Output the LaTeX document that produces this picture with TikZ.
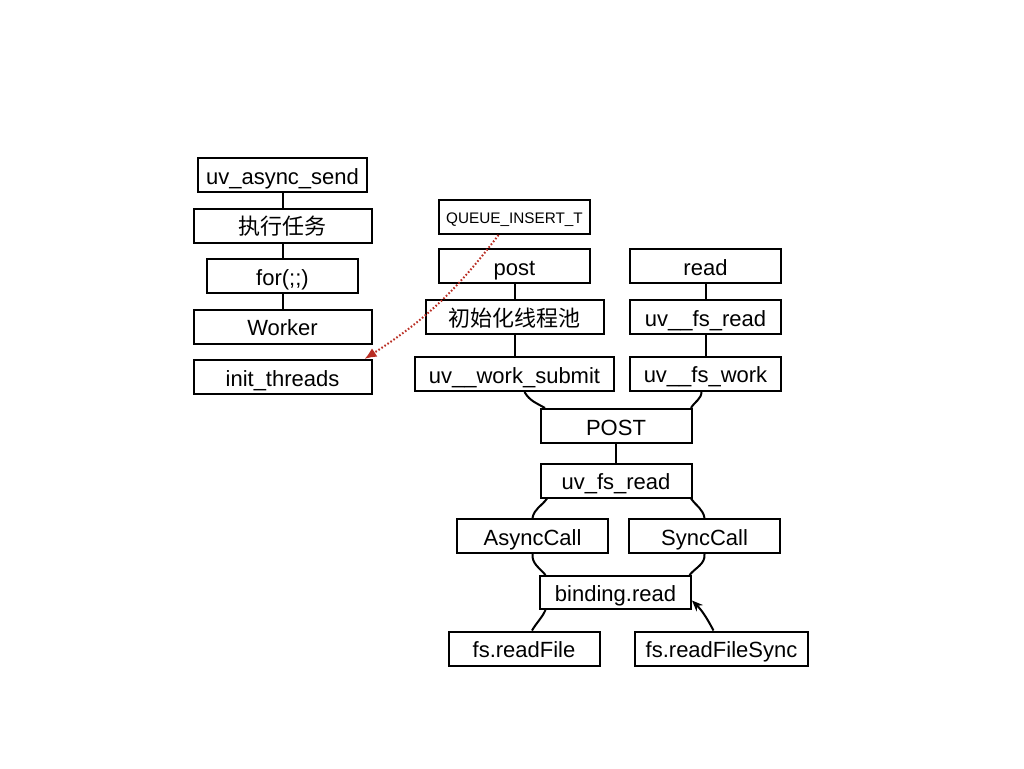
\documentclass[tikz,border=0pt]{standalone}
\usepackage{fontspec}
\setmainfont{Liberation Sans}
\newfontfamily\cjk{Noto Sans CJK SC}
\usetikzlibrary{arrows.meta,positioning}
\definecolor{dotred}{RGB}{185,45,35}

\begin{document}
\begin{tikzpicture}[x=1pt, y=1pt,
		box/.style={draw, line width=2pt, minimum height=34pt, minimum width=151pt, inner sep=0pt,
			text height=19pt, text depth=1pt, font=\fontsize{22}{26}\selectfont},
		wire/.style={line width=2pt},
		node distance=14.5pt,
	]
		\useasboundingbox (0,0) rectangle (1024,-768);
		
		% thread side
		\node (send) [box, minimum width=169pt] at (282.5,-175) {uv\_async\_send};
		\node (task) [box, minimum width=178pt, below=of send] {\cjk 执行任务};
		\node (loop) [box, below=of task] {for(;;)};
		\node (worker) [box, minimum width=178pt, below=of loop] {Worker};
		\node (init) [box, minimum width=178pt, below=of worker] {init\_threads};
		
		% post column
		\node (queue) [box, font=\fontsize{15.3}{18}\selectfont, text height=14pt, text depth=1pt] at (514.5,-217) {QUEUE\_INSERT\_T};
		\node (post) [box] at (514.5,-266) {post};
		\node (pool) [box, minimum width=178pt, below=15pt of post] {\cjk 初始化线程池};
		\node (submit) [box, minimum width=199pt, below=21pt of pool] {uv\_\_work\_submit};
		
		% read column
		\node (read) [box] at (705.5,-266) {read};
		\node (fsread) [box, below=15pt of read] {uv\_\_fs\_read};
		\node (fswork) [box, below=20.5pt of fsread] {uv\_\_fs\_work};
		
		% call chain
		\node (POST) [box] at (616,-426) {POST};
		\node (uvread) [box, below=18.5pt of POST] {uv\_fs\_read};
		\node (async) [box] at (532.5,-536) {AsyncCall};
		\node (sync) [box] at (704.5,-536) {SyncCall};
		\node (binding) [box, minimum height=33pt] at (615.5,-592.5) {binding.read};
		\node (readfile) [box] at (524,-648.5) {fs.readFile};
		\node (readsync) [box, minimum width=173pt] at (721.5,-648.5) {fs.readFileSync};
		
		\draw[wire] (send) -- (task);
		\draw[wire] (task) -- (loop);
		\draw[wire] (loop) -- (worker);
		\draw[wire] (post) -- (pool);
		\draw[wire] (pool) -- (submit);
		\draw[wire] (read) -- (fsread);
		\draw[wire] (fsread) -- (fswork);
		\draw[wire] (POST) -- (uvread);
		
		\draw[wire] ([xshift=10pt]submit.south) to[out=-60, in=150] ([xshift=-71pt]POST.north);
		\draw[wire] ([xshift=-4pt]fswork.south) to[out=-90, in=60] ([xshift=75pt]POST.north);
		\draw[wire] ([xshift=-69pt]uvread.south) to[out=-125, in=80] (async.north);
		\draw[wire] ([xshift=75pt]uvread.south) to[out=-55, in=100] (sync.north);
		\draw[wire] (async.south) to[out=-95, in=130] ([xshift=-70pt]binding.north);
		\draw[wire] (sync.south) to[out=-85, in=50] ([xshift=74pt]binding.north);
		\draw[wire] ([xshift=8pt]readfile.north) to[out=60, in=-115] ([xshift=-70pt]binding.south);
		\draw[wire, -{Stealth[length=11pt, width=9pt]}] ([xshift=-8pt]readsync.north) to[out=118, in=-45] ([yshift=-8pt]binding.east);
		
		\draw[line width=2pt, dotred, dash pattern=on 1.6pt off 2pt, -{Latex[length=12pt, width=10pt]}]
			([xshift=-16pt]queue.south) to[bend left=10] ([xshift=-8pt]init.north east);
	\end{tikzpicture}
\end{document}
